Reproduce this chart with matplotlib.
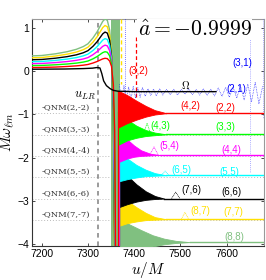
import matplotlib
matplotlib.use("Agg")
import matplotlib.pyplot as plt

plt.rcParams['mathtext.fontset'] = 'cm'

# ---------------- data ----------------
modes = ["(2,2)", "(3,3)", "(4,4)", "(5,5)", "(6,6)", "(7,7)", "(8,8)"]
colors = ["#ff0000", "#00ff00", "#ff00ff", "#00ffff", "#000000", "#ffe000", "#80c080"]

# pre-plunge mode frequencies
u_pre = [7179, 7200, 7230, 7255, 7275, 7290, 7300, 7311, 7320, 7326, 7332, 7337,
         7342, 7347, 7351, 7355, 7358, 7361]
w_pre = {
    "(2,2)": [0.09, 0.092, 0.10, 0.114, 0.128, 0.144, 0.16, 0.194, 0.23, 0.26, 0.29, 0.304, 0.296, 0.24, 0.12, -0.3, -1.4, -6],
    "(3,3)": [0.135, 0.138, 0.153, 0.171, 0.192, 0.216, 0.24, 0.291, 0.345, 0.39, 0.435, 0.456, 0.444, 0.36, 0.18, -0.45, -2.1, -6],
    "(4,4)": [0.18, 0.184, 0.204, 0.228, 0.256, 0.288, 0.32, 0.388, 0.46, 0.52, 0.58, 0.608, 0.592, 0.48, 0.24, -0.6, -2.8, -6],
    "(5,5)": [0.225, 0.23, 0.255, 0.285, 0.32, 0.36, 0.40, 0.485, 0.575, 0.65, 0.725, 0.76, 0.74, 0.60, 0.30, -0.75, -3.5, -6],
    "(6,6)": [0.27, 0.276, 0.306, 0.342, 0.384, 0.432, 0.48, 0.582, 0.69, 0.78, 0.87, 0.912, 0.888, 0.72, 0.36, -0.9, -4.2, -6],
    "(7,7)": [0.315, 0.322, 0.357, 0.399, 0.448, 0.504, 0.56, 0.679, 0.805, 0.91, 1.015, 1.064, 1.036, 0.84, 0.42, -1.05, -4.9, -6],
    "(8,8)": [0.36, 0.368, 0.408, 0.456, 0.512, 0.576, 0.64, 0.776, 0.92, 1.04, 1.16, 1.216, 1.184, 0.96, 0.48, -1.2, -5.6, -6],
}

# post-plunge ringing envelopes (upper / lower), settling on the final frequency
env_u = {
    "(2,2)": [7366, 7385, 7405, 7425, 7445, 7470],
    "(3,3)": [7366, 7385, 7405, 7425, 7445, 7470],
    "(4,4)": [7367, 7385, 7400, 7415, 7435, 7455],
    "(5,5)": [7367, 7385, 7405, 7425, 7445, 7470],
    "(6,6)": [7367, 7385, 7405, 7425, 7445, 7465],
    "(7,7)": [7368, 7385, 7405, 7425, 7445, 7470],
    "(8,8)": [7369, 7390, 7415, 7440, 7465, 7490, 7520],
}
env_hi = {
    "(2,2)": [-0.45, -0.55, -0.68, -0.80, -0.90, -0.97],
    "(3,3)": [-0.95, -1.12, -1.26, -1.36, -1.42, -1.46],
    "(4,4)": [-1.38, -1.58, -1.72, -1.83, -1.91, -1.94],
    "(5,5)": [-1.85, -2.02, -2.17, -2.28, -2.36, -2.41],
    "(6,6)": [-2.20, -2.42, -2.62, -2.78, -2.89, -2.95],
    "(7,7)": [-2.85, -3.00, -3.15, -3.28, -3.38, -3.43],
    "(8,8)": [-3.40, -3.55, -3.68, -3.80, -3.88, -3.93, -3.96],
}
env_lo = {
    "(2,2)": [-1.30, -1.20, -1.12, -1.05, -1.00, -0.97],
    "(3,3)": [-1.70, -1.60, -1.54, -1.50, -1.48, -1.46],
    "(4,4)": [-2.10, -2.02, -1.98, -1.96, -1.95, -1.94],
    "(5,5)": [-2.55, -2.50, -2.46, -2.43, -2.42, -2.41],
    "(6,6)": [-3.15, -3.08, -3.02, -2.98, -2.96, -2.95],
    "(7,7)": [-3.58, -3.52, -3.48, -3.45, -3.44, -3.43],
    "(8,8)": [-4.30, -4.20, -4.12, -4.06, -4.01, -3.98, -3.96],
}
u_end = 7681

# orbital frequency
u_Om = [7179, 7250, 7290, 7310, 7320, 7326, 7330, 7334, 7340, 7348, 7355, 7365, 7400, 7577]
Om = [0.05, 0.055, 0.065, 0.075, 0.09, 0.08, -0.05, -0.22, -0.33, -0.4, -0.44, -0.46, -0.47, -0.47]

# (2,1) mode, dotted
u_21 = [7368, 7373, 7378, 7383, 7388, 7393, 7398, 7403, 7408, 7413, 7418, 7424, 7430, 7436,
        7442, 7448, 7455, 7462, 7470, 7478, 7486, 7494, 7502, 7510, 7518, 7526, 7534, 7542,
        7550, 7558, 7566, 7574, 7582, 7590, 7598, 7606, 7614, 7622, 7630, 7638, 7646, 7654,
        7662, 7670, 7678]
w_21 = [-0.30, -0.72, -0.33, -0.70, -0.36, -0.66, -0.35, -0.62, -0.38, -0.60, -0.37, -0.58,
        -0.40, -0.56, -0.41, -0.57, -0.40, -0.55, -0.42, -0.54, -0.41, -0.55, -0.42, -0.53,
        -0.41, -0.54, -0.42, -0.55, -0.40, -0.56, -0.41, -0.57, -0.38, -0.58, -0.37, -0.60,
        -0.36, -0.62, -0.33, -0.66, -0.30, -0.70, -0.25, -0.75, -0.35]

# mode-mixing bumps (l+1, l)
bumps = {
    "(4,3)": ([7420, 7428, 7436], [-1.46, -1.20, -1.46], "#00ff00"),
    "(5,4)": ([7434, 7443, 7452], [-1.94, -1.75, -1.94], "#ff00ff"),
    "(6,5)": ([7459, 7467, 7475], [-2.41, -2.31, -2.41], "#00ffff"),
    "(7,6)": ([7481, 7490, 7499], [-2.95, -2.80, -2.95], "#000000"),
    "(8,7)": ([7502, 7510, 7518], [-3.43, -3.27, -3.43], "#ffe000"),
}

qnm_labels = ["-QNM(2,-2)", "-QNM(3,-3)", "-QNM(4,-4)", "-QNM(5,-5)", "-QNM(6,-6)", "-QNM(7,-7)"]
qnm_vals = [-0.97, -1.48, -1.97, -2.46, -2.95, -3.45]

u_LR = 7322
band = (7350, 7369)
u_yellow_dash = 7371
u_blue_dot = 7380
u_red_dash = 7404
u_blue_dot_right = [7650, 7679]
blue_dot_right_bottom = [-2.36, -1.1]

# text labels: (text, u, value, color)
mode_labels = [
    ("(3,2)", 7410, 0.01, "#ff0000"),
    ("(3,1)", 7635, 0.19, "#0000ff"),
    ("(2,1)", 7621, -0.41, "#0000ff"),
    ("(4,2)", 7521, -0.80, "#ff0000"),
    ("(2,2)", 7598, -0.84, "#ff0000"),
    ("(4,3)", 7456, -1.27, "#00ff00"),
    ("(3,3)", 7598, -1.30, "#00ff00"),
    ("(5,4)", 7477, -1.74, "#ff00ff"),
    ("(4,4)", 7611, -1.83, "#ff00ff"),
    ("(6,5)", 7503, -2.29, "#00ffff"),
    ("(5,5)", 7605, -2.33, "#00ffff"),
    ("(7,6)", 7523, -2.76, "#000000"),
    ("(6,6)", 7611, -2.80, "#000000"),
    ("(8,7)", 7544, -3.24, "#ffe000"),
    ("(7,7)", 7614, -3.27, "#ffe000"),
    ("(8,8)", 7616, -3.83, "#80c080"),
]

xticks = [7200, 7300, 7400, 7500, 7600]
yticks = [1, 0, -1, -2, -3, -4]

# ---------------- figure ----------------
fig = plt.figure(figsize=(2.66, 2.80), dpi=100)
ax = fig.add_axes([32 / 266, 34 / 280, 232 / 266, 227 / 280])
ax.set_xlim(7179, 7681)
ax.set_ylim(-4.05, 1.215)

for v in qnm_vals:
    ax.axhline(v, color="#bbbbbb", lw=0.7, ls=(0, (1, 2)), zorder=1)

ax.axvspan(band[0], band[1], color="#80c080", lw=0, zorder=2)
ax.axvline(u_LR, color="#808080", lw=1.1, ls=(0, (3, 2.5)), zorder=3)

ax.plot([u_yellow_dash, u_yellow_dash], [1.215, -0.3], color="#ffe000", lw=1.0, ls=(0, (3, 2)), zorder=3)
ax.plot([u_blue_dot, u_blue_dot], [1.215, -0.6], color="#0000ff", lw=0.5, ls=(0, (1, 2)), zorder=3)
ax.plot([u_red_dash, u_red_dash], [0.8, -0.6], color="#ff0000", lw=0.9, ls=(0, (3, 2)), zorder=3)
for ub, yb in zip(u_blue_dot_right, blue_dot_right_bottom):
    ax.plot([ub, ub], [1.215, yb], color="#6060ff", lw=0.5, ls=(0, (1, 2)), zorder=3)

ax.plot(u_21, w_21, color="#2020ff", lw=0.5, ls=(0, (1, 1.3)), zorder=4)

for name, col in zip(modes[::-1], colors[::-1]):
    ax.plot(u_pre, w_pre[name], color=col, lw=1.0, zorder=5)
    eu, hi, lo = env_u[name], env_hi[name], env_lo[name]
    ax.plot([eu[0], eu[0]], [-6, hi[0]], color=col, lw=0.9, zorder=5)
    ax.fill_between(eu, lo, hi, color=col, lw=0.6, edgecolor=col, zorder=5)
    ax.plot([eu[-1], u_end], [hi[-1], hi[-1]], color=col, lw=1.0, zorder=5)

for name, (bu, bv, col) in bumps.items():
    ax.plot(bu, bv, color=col, lw=0.5, ls=(0, (1.5, 1)), zorder=6)

ax.plot(u_Om, Om, color="black", lw=1.0, zorder=6)

for txt, uu, vv, col in mode_labels:
    ax.text(uu, vv, txt, color=col, fontsize=7, family="Liberation Sans",
            ha="center", va="center", zorder=7)
ax.text(7512, -0.31, r"$\mathbf{\Omega}$", color="black", fontsize=7.5, ha="center", va="center", zorder=7)

for txt, v in zip(qnm_labels, qnm_vals):
    ax.text(7200, v + 0.12, txt, fontsize=6, family="DejaVu Serif", color="#333333",
            ha="left", va="center", zorder=7)

ax.text(7318, -0.56, r"$u_{LR}$", fontsize=9, ha="right", va="center", zorder=7)
ax.text(7408, 0.97, r"$\hat{a}=-0.9999$", fontsize=15.6, ha="left", va="center", zorder=8,
        bbox=dict(facecolor="white", edgecolor="none", pad=0.5))

ax.set_xticks(xticks)
ax.set_yticks(yticks)
ax.set_xticklabels([str(t) for t in xticks], family="Liberation Sans", fontsize=7.5)
ax.set_yticklabels([("\u2212" + str(-t)) if t < 0 else str(t) for t in yticks],
                   family="Liberation Sans", fontsize=7.5)
ax.tick_params(direction="in", length=2.5, width=0.5, top=True, right=True, pad=2)
ax.spines["left"].set_color("#333333")
ax.spines["bottom"].set_color("#333333")
ax.spines["top"].set_color("#999999")
ax.spines["right"].set_color("#999999")
for s in ax.spines.values():
    s.set_linewidth(0.8)

ax.set_xlabel(r"$u/M$", fontsize=11, labelpad=1)
ax.set_ylabel(r"$M\omega_{\ell m}$", fontsize=11, labelpad=0)

fig.savefig("out.png", dpi=100)
